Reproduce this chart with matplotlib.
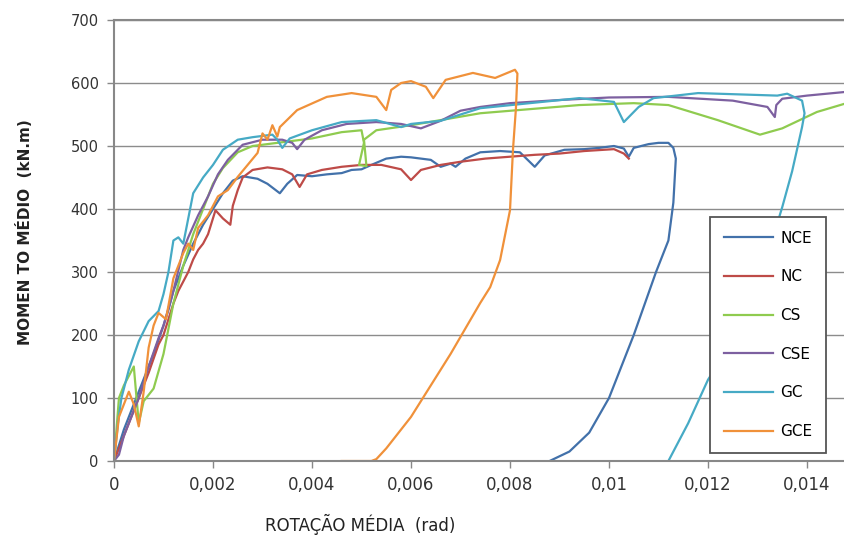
import numpy as np
import matplotlib.pyplot as plt

# series: rotation (rad) and moment (kN.m)
nce_x = [0, 0.0001, 0.0002, 0.0004, 0.0006, 0.0008, 0.001, 0.0011, 0.0012, 0.0014, 0.0016, 0.0018,
         0.002, 0.0022, 0.0024, 0.0026, 0.0029, 0.0031, 0.00335, 0.0035, 0.0037, 0.004, 0.0043,
         0.0046, 0.0048, 0.005, 0.0052, 0.0055, 0.0058, 0.006, 0.0064, 0.0066, 0.0068, 0.0069,
         0.0071, 0.0074, 0.0078, 0.0082, 0.0085, 0.0087, 0.0091, 0.0095, 0.0098, 0.0101, 0.0103,
         0.0104, 0.0105, 0.0108, 0.011, 0.0112, 0.0113, 0.01135, 0.0113, 0.0112, 0.01095, 0.0105,
         0.01, 0.0096, 0.0092, 0.0088]
nce_y = [0, 25, 50, 90, 130, 170, 215, 240, 270, 310, 345, 375,
         400, 425, 445, 452, 448, 440, 425, 440, 454, 452, 455,
         457, 462, 463, 470, 480, 483, 482, 478, 467, 472, 467,
         480, 490, 492, 490, 467, 485, 494, 495, 497, 500, 496,
         483, 497, 503, 505, 505, 497, 480, 410, 350, 300, 200,
         100, 45, 15, 0]

nc_x = [0, 0.0001, 0.0003, 0.0005, 0.0007, 0.0009, 0.001, 0.0011, 0.0012, 0.0013, 0.0014, 0.0015,
        0.0016, 0.0017, 0.0018, 0.0019, 0.00205, 0.0022, 0.00235, 0.0024, 0.0025, 0.0026, 0.0028,
        0.0031, 0.0034, 0.0036, 0.00375, 0.0039, 0.0042, 0.0046, 0.005, 0.0054, 0.0058, 0.006,
        0.0062, 0.0066, 0.007, 0.0075, 0.008, 0.0085, 0.009, 0.0095, 0.0101, 0.0103, 0.0104]
nc_y = [0, 20, 60, 100, 140, 185, 200, 225, 250, 270, 285, 300,
        320, 335, 345, 360, 398, 385, 375, 405, 430, 450, 462,
        466, 463, 455, 435, 455, 462, 467, 470, 470, 463, 446,
        462, 470, 475, 480, 483, 486, 488, 492, 495, 488, 480]

cs_x = [0, 0.0001, 0.0002, 0.0004, 0.0005, 0.0006, 0.0008, 0.001, 0.0012, 0.0014, 0.0016, 0.0018,
        0.002, 0.0022, 0.0025, 0.0028, 0.0033, 0.004, 0.0046, 0.005, 0.00505, 0.00495, 0.0051,
        0.00505, 0.0053, 0.006, 0.0074, 0.0094, 0.0105, 0.0112, 0.0122, 0.01305, 0.0135, 0.0142,
        0.0148]
cs_y = [0, 100, 120, 150, 60, 95, 115, 170, 250, 310, 360, 400,
        440, 465, 490, 500, 505, 512, 522, 525, 505, 470, 468,
        510, 525, 533, 552, 565, 568, 565, 541, 518, 528, 554,
        568]

cse_x = [0, 0.0001, 0.0002, 0.0003, 0.0005, 0.0007, 0.0009, 0.001, 0.0012, 0.0014, 0.0015, 0.0017,
         0.0019, 0.0021, 0.0023, 0.0026, 0.003, 0.0034, 0.0036, 0.0037, 0.00385, 0.0042, 0.0047,
         0.0053, 0.0058, 0.0062, 0.0066, 0.007, 0.0074, 0.008, 0.009, 0.01, 0.0112, 0.0125,
         0.0132, 0.01335, 0.01338, 0.0135, 0.014, 0.0148]
cse_y = [0, 10, 40, 60, 100, 150, 195, 215, 270, 335, 355, 390,
         420, 455, 478, 502, 510, 510, 505, 495, 510, 525, 535,
         538, 535, 528, 540, 556, 562, 568, 573, 577, 578, 572,
         562, 546, 565, 575, 580, 586]

gc_x = [0, 0.00008, 0.00015, 0.0003, 0.0005, 0.0007, 0.0009, 0.001, 0.0011, 0.0012, 0.0013, 0.0014,
        0.0015, 0.0016, 0.0018, 0.002, 0.0022, 0.0025, 0.0028, 0.0032, 0.0033, 0.0034, 0.00355,
        0.004, 0.0046, 0.0053, 0.0058, 0.006, 0.0066, 0.0074, 0.0094, 0.0101, 0.0103, 0.0106,
        0.0109, 0.0118, 0.0134, 0.0136, 0.0139, 0.01395, 0.0139, 0.0137, 0.0135, 0.0131, 0.0127,
        0.012, 0.0116, 0.0112]
gc_y = [0, 60, 100, 145, 190, 222, 238, 265, 300, 350, 355, 345,
        385, 425, 450, 470, 494, 510, 514, 518, 510, 497, 512,
        525, 538, 541, 530, 535, 540, 560, 576, 570, 538, 562,
        576, 584, 580, 583, 572, 552, 530, 460, 403, 300, 213,
        129, 60, 0]

gce_x = [0, 0.0001, 0.0003, 0.0004, 0.0005, 0.0006, 0.0007, 0.0008, 0.0009, 0.00105, 0.0012, 0.0014,
         0.0015, 0.0016, 0.0017, 0.0019, 0.0021, 0.0023, 0.0025, 0.0027, 0.0029, 0.003, 0.0031,
         0.0032, 0.0033, 0.00335, 0.0037, 0.0043, 0.0048, 0.0053, 0.0055, 0.0056, 0.0058, 0.006,
         0.0063, 0.00645, 0.0067, 0.00725, 0.0077, 0.0081, 0.00815, 0.00812, 0.00806, 0.008,
         0.0078, 0.0076, 0.0074, 0.0068, 0.006, 0.0055, 0.0053, 0.0052, 0.0046]
gce_y = [0, 70, 110, 90, 55, 110, 180, 215, 235, 225, 290, 330,
         345, 335, 370, 390, 420, 430, 451, 470, 489, 520, 510,
         533, 515, 530, 557, 578, 584, 578, 557, 589, 600, 603,
         594, 576, 605, 616, 608, 621, 615, 560, 494, 398,
         319, 276, 251, 170, 70, 20, 3, 0, 0]

names = ['NCE', 'NC', 'CS', 'CSE', 'GC', 'GCE']
xs = [nce_x, nc_x, cs_x, cse_x, gc_x, gce_x]
ys = [nce_y, nc_y, cs_y, cse_y, gc_y, gce_y]
colors = ['#4271AA', '#BE4B48', '#8FCB4F', '#7D60A0', '#46AAC5', '#F0913A']

fig = plt.figure(figsize=(8.45, 5.39), dpi=100)
ax = fig.add_axes([114/845, 1-461/539, 1-114/845, 441/539])

for x, y, c, n in zip(xs, ys, colors, names):
    ax.plot(x, y, color=c, lw=1.6, label=n, solid_joinstyle='round')

ax.set_xlim(0, (845-114)/49.5*0.001)
ax.set_ylim(0, 700)
ax.set_yticks(np.arange(0, 701, 100))
ax.set_xticks(np.arange(0, 0.0141, 0.002))
ax.set_xticklabels(['0', '0,002', '0,004', '0,006', '0,008', '0,01', '0,012', '0,014'],
                   family=['Liberation Sans Narrow', 'DejaVu Sans'], fontsize=12)
for t in ax.get_yticklabels():
    t.set_fontsize(10.5)
ax.tick_params(colors='#333333', length=5, width=1, pad=6)
ax.tick_params(axis='both', color='#888888')
ax.yaxis.grid(True, color='#8c8c8c', lw=1)
ax.set_axisbelow(True)
for s in ['left', 'top', 'bottom']:
    ax.spines[s].set_color('#888888')
    ax.spines[s].set_linewidth(1.5)
ax.spines['right'].set_visible(False)

fig.text(360/845, 1-524/539, 'ROTAÇÃO MÉDIA  (rad)', ha='center', va='center', fontsize=12,
         family=['Liberation Sans Narrow', 'DejaVu Sans'], color='#222222')
fig.text(25/845, 1-232/539, 'MOMEN TO MÉDIO  (kN.m)', ha='center', va='center', rotation=90,
         fontsize=11, fontweight='bold', color='#222222')

leg = ax.legend(loc='upper left', bbox_to_anchor=(710/845, 1-217/539), bbox_transform=fig.transFigure,
                fancybox=False, framealpha=1, edgecolor='#555555', handlelength=3.2, labelspacing=1.55,
                borderpad=0.9, handletextpad=0.5, borderaxespad=0,
                prop={'family': ['Liberation Sans Narrow', 'DejaVu Sans'], 'size': 11})
leg.get_frame().set_linewidth(1.3)

fig.savefig('out.png', dpi=100)
